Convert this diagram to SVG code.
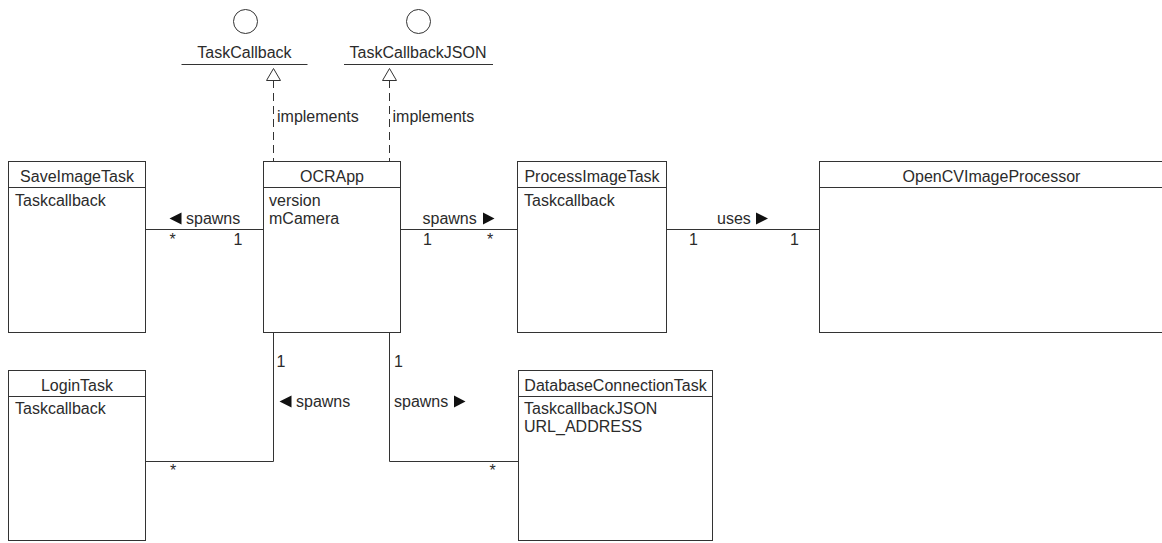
<svg xmlns="http://www.w3.org/2000/svg" width="1162" height="543" viewBox="0 0 1162 543">
  <style>
    .box { fill: #ffffff; stroke: #333333; stroke-width: 1; }
    .div { stroke: #333333; stroke-width: 1; fill: none; }
    .edge { stroke: #333333; stroke-width: 1; fill: none; }
    .dash { stroke: #333333; stroke-width: 1; fill: none; stroke-dasharray: 8 5; }
    .realize { fill: #ffffff; stroke: #333333; stroke-width: 1; }
    .lollipop { fill: #ffffff; stroke: #333333; stroke-width: 1; }
    .dir { fill: #111111; stroke: none; }
    text { font-family: "Liberation Sans", Arial, sans-serif; font-size: 16px; fill: #2b2b2b; }
    .title { text-anchor: middle; }
  </style>

  <!-- interfaces -->
  <g id="iface-taskcallback">
    <circle class="lollipop" cx="245.5" cy="21.5" r="12"/>
    <text class="title" x="244.5" y="58">TaskCallback</text>
    <path class="div" d="M181.5 64.5 H307.5"/>
  </g>
  <g id="iface-taskcallbackjson">
    <circle class="lollipop" cx="418.5" cy="21.5" r="12"/>
    <text class="title" x="418" y="58">TaskCallbackJSON</text>
    <path class="div" d="M344 64.5 H493"/>
  </g>

  <!-- connectors -->
  <g id="connectors">
    <!-- realizations -->
    <path class="dash" d="M273.5 80 V161.5"/>
    <polygon class="realize" points="273.5,68.5 266.5,80.5 280.5,80.5"/>
    <text x="277" y="122">implements</text>
    <path class="dash" d="M389.5 80 V161.5"/>
    <polygon class="realize" points="389.5,68.5 382.5,80.5 396.5,80.5"/>
    <text x="392.5" y="122">implements</text>

    <!-- OCRApp -> SaveImageTask -->
    <path class="edge" d="M145.5 229.5 H263.5"/>
    <polygon class="dir" points="169.5,218.5 181.5,212.5 181.5,224.5"/>
    <text x="186" y="224">spawns</text>
    <text x="169.5" y="245">*</text>
    <text x="233.5" y="245">1</text>

    <!-- OCRApp -> ProcessImageTask -->
    <path class="edge" d="M400.5 229.5 H517.5"/>
    <text x="422.5" y="224">spawns</text>
    <polygon class="dir" points="483,212.5 483,224.5 494.5,218.5"/>
    <text x="423" y="245">1</text>
    <text x="487" y="245">*</text>

    <!-- ProcessImageTask -> OpenCVImageProcessor -->
    <path class="edge" d="M666.5 229.5 H819.5"/>
    <text x="717" y="224">uses</text>
    <polygon class="dir" points="756,212.5 756,224.5 768,218.5"/>
    <text x="689" y="245">1</text>
    <text x="790" y="245">1</text>

    <!-- OCRApp -> LoginTask -->
    <path class="edge" d="M273.5 332.5 V461.5 H145.5"/>
    <text x="276.5" y="367">1</text>
    <polygon class="dir" points="279.5,401.5 291.5,395.5 291.5,407.5"/>
    <text x="296" y="407">spawns</text>
    <text x="170" y="476">*</text>

    <!-- OCRApp -> DatabaseConnectionTask -->
    <path class="edge" d="M389.5 332.5 V461.5 H518.5"/>
    <text x="394" y="367">1</text>
    <text x="394" y="407">spawns</text>
    <polygon class="dir" points="454,395.5 454,407.5 465.5,401.5"/>
    <text x="489.5" y="476">*</text>
  </g>

  <!-- classes -->
  <g id="SaveImageTask">
    <rect class="box" x="8.5" y="161.5" width="137" height="171"/>
    <path class="div" d="M8.5 187.5 H145.5"/>
    <text class="title" x="77" y="182">SaveImageTask</text>
    <text x="15" y="206">Taskcallback</text>
  </g>

  <g id="OCRApp">
    <rect class="box" x="263.5" y="161.5" width="137" height="171"/>
    <path class="div" d="M263.5 187.5 H400.5"/>
    <text class="title" x="332" y="182">OCRApp</text>
    <text x="269" y="206">version</text>
    <text x="269" y="224">mCamera</text>
  </g>

  <g id="ProcessImageTask">
    <rect class="box" x="517.5" y="161.5" width="149" height="171"/>
    <path class="div" d="M517.5 187.5 H666.5"/>
    <text class="title" x="592" y="182">ProcessImageTask</text>
    <text x="524" y="206">Taskcallback</text>
  </g>

  <g id="OpenCVImageProcessor">
    <rect class="box" x="819.5" y="161.5" width="345" height="171"/>
    <path class="div" d="M819.5 187.5 H1164.5"/>
    <text class="title" x="991.5" y="182">OpenCVImageProcessor</text>
  </g>

  <g id="LoginTask">
    <rect class="box" x="8.5" y="370.5" width="137" height="170"/>
    <path class="div" d="M8.5 396.5 H145.5"/>
    <text class="title" x="77" y="391">LoginTask</text>
    <text x="15" y="414">Taskcallback</text>
  </g>

  <g id="DatabaseConnectionTask">
    <rect class="box" x="518.5" y="370.5" width="194" height="170"/>
    <path class="div" d="M518.5 396.5 H712.5"/>
    <text class="title" x="615.5" y="391">DatabaseConnectionTask</text>
    <text x="524" y="414">TaskcallbackJSON</text>
    <text x="524" y="432">URL_ADDRESS</text>
  </g>
</svg>
